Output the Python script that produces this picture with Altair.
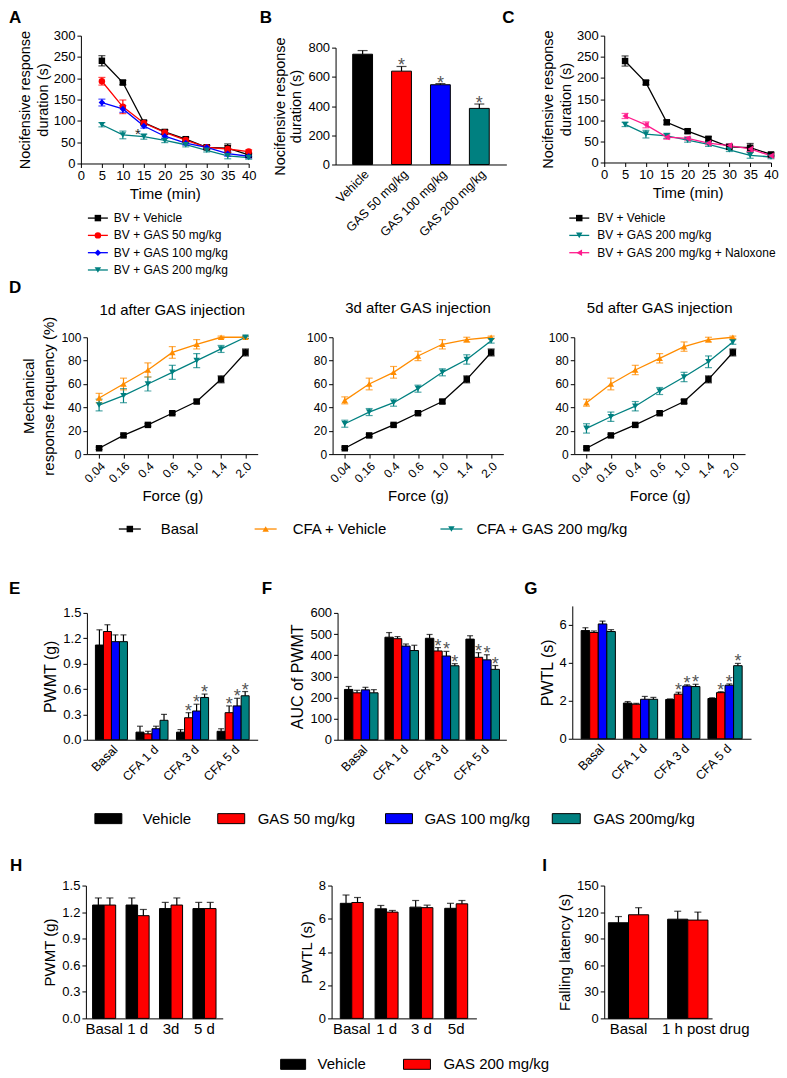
import altair as alt
import pandas as pd

FONT = "Liberation Sans"
BLACK, RED, BLUE, TEAL, PINK, ORANGE = "#000000", "#ff0000", "#0000ff", "#008080", "#ff1a8c", "#ff8c00"
STAR = "#555555"

LETTERS = ["A", "B", "C", "D", "E", "F", "G", "H", "I"]

# ---------------- Panel A ----------------
A_time = [5, 10, 15, 20, 25, 30, 35, 40]
A_series = ["BV + Vehicle", "BV + GAS 50 mg/kg", "BV + GAS 100 mg/kg", "BV + GAS 200 mg/kg"]
A_vehicle = [241, 190, 96, 74, 57, 38, 36, 20]
A_vehicle_err = [12, 5, 5, 5, 5, 5, 10, 4]
A_gas50 = [193, 133, 95, 73, 55, 38, 34, 28]
A_gas50_err = [9, 16, 4, 5, 5, 4, 8, 4]
A_gas100 = [143, 128, 88, 64, 48, 38, 23, 17]
A_gas100_err = [8, 8, 5, 5, 5, 4, 6, 4]
A_gas200 = [91, 67, 63, 54, 44, 31, 18, 14]
A_gas200_err = [5, 9, 6, 5, 5, 4, 7, 4]
A_star_time = [15]
A_star_series = ["BV + GAS 200 mg/kg"]

# ---------------- Panel B ----------------
B_groups = ["Vehicle", "GAS 50 mg/kg", "GAS 100 mg/kg", "GAS 200 mg/kg"]
B_values = [755, 639, 546, 384]
B_err = [25, 32, 8, 30]
B_sig = [False, True, True, True]

# ---------------- Panel C ----------------
C_series = ["BV + Vehicle", "BV + GAS 200 mg/kg", "BV + GAS 200 mg/kg + Naloxone"]
C_vehicle = [240, 189, 95, 74, 56, 37, 35, 19]
C_vehicle_err = [12, 5, 5, 5, 5, 5, 10, 4]
C_gas200 = [90, 67, 63, 53, 43, 30, 17, 13]
C_gas200_err = [5, 9, 6, 5, 5, 4, 7, 4]
C_nalox = [110, 89, 60, 57, 46, 40, 32, 16]
C_nalox_err = [6, 7, 5, 4, 4, 4, 6, 4]

# ---------------- Panel D ----------------
D_force = ["0.04", "0.16", "0.4", "0.6", "1.0", "1.4", "2.0"]
D_series = ["Basal", "CFA + Vehicle", "CFA + GAS 200 mg/kg"]
D_titles = ["1d after GAS injection", "3d after GAS injection", "5d after GAS injection"]
D_basal = [5, 16, 25, 35, 45, 64, 87]
D_basal_err = [1, 1, 1, 1, 1.5, 3, 3]
D1_veh = [48, 60, 72, 87, 94, 100, 100]
D1_veh_err = [4, 5, 6, 5, 4, 1, 1]
D1_gas = [42, 50, 60, 70, 80, 90, 100]
D1_gas_err = [5, 6, 6, 6, 6, 3, 1]
D2_veh = [46, 60, 70, 84, 94, 98, 100]
D2_veh_err = [3, 5, 5, 4, 4, 2, 1]
D2_gas = [26, 36, 44, 56, 70, 81, 97]
D2_gas_err = [3, 3, 3, 3, 3, 4, 2]
D3_veh = [44, 60, 72, 82, 92, 98, 100]
D3_veh_err = [3, 5, 4, 4, 4, 2, 1]
D3_gas = [22, 32, 41, 54, 66, 79, 96]
D3_gas_err = [4, 4, 4, 3, 4, 5, 2]

# ---------------- Panels E, F, G ----------------
EFG_groups = ["Basal", "CFA 1 d", "CFA 3 d", "CFA 5 d"]
EFG_series = ["Vehicle", "GAS 50 mg/kg", "GAS 100 mg/kg", "GAS 200mg/kg"]
EFG_sig = [[0, 0, 0, 0], [0, 0, 1, 1], [0, 0, 1, 1], [0, 0, 1, 1]]
E_veh = [1.12, 0.09, 0.09, 0.10]
E_veh_err = [0.18, 0.07, 0.03, 0.03]
E_g50 = [1.28, 0.07, 0.26, 0.32]
E_g50_err = [0.08, 0.03, 0.06, 0.08]
E_g100 = [1.16, 0.13, 0.34, 0.40]
E_g100_err = [0.08, 0.03, 0.08, 0.09]
E_g200 = [1.16, 0.23, 0.50, 0.52]
E_g200_err = [0.08, 0.07, 0.04, 0.05]
F_veh = [238, 485, 480, 476]
F_veh_err = [14, 22, 18, 16]
F_g50 = [222, 478, 420, 390]
F_g50_err = [12, 10, 16, 22]
F_g100 = [236, 443, 396, 378]
F_g100_err = [12, 10, 22, 24]
F_g200 = [222, 422, 350, 333]
F_g200_err = [15, 25, 10, 18]
G_veh = [5.70, 1.88, 2.07, 2.12]
G_veh_err = [0.15, 0.08, 0.03, 0.04]
G_g50 = [5.60, 1.82, 2.35, 2.43]
G_g50_err = [0.08, 0.04, 0.10, 0.05]
G_g100 = [6.05, 2.08, 2.78, 2.82]
G_g100_err = [0.15, 0.15, 0.06, 0.07]
G_g200 = [5.65, 2.08, 2.75, 3.85]
G_g200_err = [0.10, 0.10, 0.12, 0.12]

# ---------------- Panels H, I ----------------
HI_series = ["Vehicle", "GAS 200 mg/kg"]
H_groups = ["Basal", "1 d", "3d", "5 d"]
H_veh = [1.28, 1.28, 1.24, 1.24]
H_veh_err = [0.08, 0.08, 0.07, 0.07]
H_gas = [1.28, 1.16, 1.28, 1.24]
H_gas_err = [0.08, 0.07, 0.08, 0.07]
H2_groups = ["Basal", "1 d", "3 d", "5d"]
H2_veh = [6.93, 6.60, 6.70, 6.63]
H2_veh_err = [0.50, 0.20, 0.40, 0.30]
H2_gas = [6.98, 6.40, 6.67, 6.90]
H2_gas_err = [0.30, 0.10, 0.15, 0.20]
I_groups = ["Basal", "1 h post drug"]
I_veh = [108, 112]
I_veh_err = [7, 9]
I_gas = [117, 111]
I_gas_err = [8, 9]

RESOLVE = dict(color="independent", shape="independent", xOffset="independent",
               x="independent", y="independent")


# ================= helpers =================
def long_df(tag, xs, series, vals, errs, sig=None):
    rows = []
    for k, (s, v, e) in enumerate(zip(series, vals, errs)):
        for i, (x, a, b) in enumerate(zip(xs, v, e)):
            rows.append({"x" + tag: x, "idx": i, "s" + tag: s, "value": a,
                         "lo": a - b, "hi": a + b,
                         "sig": bool(sig[k][i]) if sig else False})
    return pd.DataFrame(rows)


def line_chart(tag, df, series, colors, shapes, xenc, yscale, yaxis, star_df=None):
    sf = "s" + tag + ":N"
    color = alt.Color(sf, scale=alt.Scale(domain=series, range=colors), legend=None)
    shape = alt.Shape(sf, scale=alt.Scale(domain=series, range=shapes), legend=None)

    def Y(field):
        return alt.Y(field, scale=yscale, axis=yaxis)

    base = alt.Chart(df)
    layers = [
        base.mark_line(strokeWidth=1.3).encode(x=xenc, y=Y("value:Q"), color=color, order="idx:Q"),
        base.mark_rule(strokeWidth=1.2).encode(x=xenc, y=Y("lo:Q"), y2="hi:Q", color=color),
        base.mark_tick(orient="horizontal", size=7, thickness=1.2).encode(x=xenc, y=Y("hi:Q"), color=color),
        base.mark_tick(orient="horizontal", size=7, thickness=1.2).encode(x=xenc, y=Y("lo:Q"), color=color),
        base.mark_point(filled=True, size=42, opacity=1).encode(x=xenc, y=Y("value:Q"), color=color,
                                                                 shape=shape),
    ]
    if star_df is not None:
        layers.append(alt.Chart(star_df).mark_text(
            text="*", fontSize=15, font=FONT, color="#222222", baseline="alphabetic", dx=-6, dy=5
        ).encode(x=xenc, y=Y("hi:Q")))
    return alt.layer(*layers)


def bar_chart(tag, df, groups, series, colors, ydom, yvals, ytitle, yfmt, pin, pout,
              offset=True, cap=7, label_angle=-45, label_size=12.5, star_dy=0,
              title_size=16, label_y_size=13, label_shift=None):
    xkw = dict(title=None, ticks=False, labelAngle=label_angle, labelFontSize=label_size,
               labelOverlap=False, labelPadding=3)
    if label_shift:
        lab, dx = label_shift
        xkw["labelOffset"] = {"condition": {"test": "datum.value === '%s'" % lab, "value": dx}, "value": 0}
    xaxis = alt.Axis(**xkw)
    xenc = alt.X("x" + tag + ":N", sort=groups, axis=xaxis,
                 scale=alt.Scale(paddingInner=pin, paddingOuter=pout))
    enc = {"x": xenc}
    sf = "s" + tag + ":N"
    if offset:
        enc["xOffset"] = alt.XOffset(sf, sort=series, scale=alt.Scale(domain=series, paddingInner=0,
                                                                      paddingOuter=0))
    color = alt.Color(sf, scale=alt.Scale(domain=series, range=colors), legend=None)
    ykw = dict(values=yvals, title=ytitle, titleFontSize=title_size, labelFontSize=label_y_size,
               labelOverlap=False)
    if yfmt:
        ykw["format"] = yfmt
    yax = alt.Axis(**ykw)
    yscale = alt.Scale(domain=ydom, nice=False)

    def Y(field):
        return alt.Y(field, scale=yscale, axis=yax)

    base = alt.Chart(df)
    layers = [
        base.mark_bar(stroke="black", strokeWidth=1).encode(y=Y("value:Q"), color=color, **enc),
        base.mark_rule(color="black", strokeWidth=1.2).encode(y=Y("value:Q"), y2="hi:Q", **enc),
        base.mark_tick(color="black", orient="horizontal", size=cap, thickness=1.2).encode(y=Y("hi:Q"), **enc),
        base.mark_text(text="*", fontSize=18, font=FONT, color=STAR, baseline="alphabetic", dy=star_dy)
        .transform_filter("datum.sig").encode(y=Y("hi:Q"), **enc),
    ]
    return alt.layer(*layers)


ONE = pd.DataFrame({"v": [0]})


def spacer(w, h):
    return alt.Chart(ONE).mark_rect(opacity=0).encode(
        x=alt.value(0), x2=alt.value(w), y=alt.value(0), y2=alt.value(h)
    ).properties(width=w, height=h)


def anchor(w, h, lb, rb):
    return alt.Chart(ONE).mark_rect(opacity=0).encode(
        x=alt.value(-lb), x2=alt.value(w + rb), y=alt.value(0), y2=alt.value(h)
    ).properties(width=w, height=h)


def letters(pairs):
    layers = []
    for t, dx in pairs:
        layers.append(alt.Chart(pd.DataFrame({"t": [t]})).mark_text(
            align="left", baseline="top", fontSize=17, fontWeight="bold", font=FONT, color="black"
        ).encode(text="t:N", x=alt.value(dx), y=alt.value(0)))
    return alt.layer(*layers)


def line_legend(tag, labels, colors, shapes, line_w, text_x, fs, ox):
    sf = "s" + tag + ":N"
    df = pd.DataFrame({"s" + tag: labels})
    color = alt.Color(sf, scale=alt.Scale(domain=labels, range=colors), legend=None)
    shape = alt.Shape(sf, scale=alt.Scale(domain=labels, range=shapes), legend=None)
    y = alt.Y(sf, sort=labels, axis=None, scale=alt.Scale(type="point", padding=0.5))
    base = alt.Chart(df)
    return alt.layer(
        base.mark_rule(strokeWidth=1.3).encode(x=alt.value(ox), x2=alt.value(ox + line_w), y=y, color=color),
        base.mark_point(filled=True, size=42, opacity=1).encode(x=alt.value(ox + line_w / 2), y=y,
                                                                 color=color, shape=shape),
        base.mark_text(align="left", baseline="middle", fontSize=fs, font=FONT, color="black").encode(
            x=alt.value(ox + text_x), y=y, text=sf),
    )


def hline_legend(labels, colors, shapes, offsets, text_xs, line_w, fs, h):
    layers = []
    for s, c, m, ox, tx in zip(labels, colors, shapes, offsets, text_xs):
        base = alt.Chart(pd.DataFrame({"lab": [s]}))
        layers += [
            base.mark_rule(strokeWidth=1.3, color=c).encode(x=alt.value(ox), x2=alt.value(ox + line_w),
                                                            y=alt.value(h / 2)),
            base.mark_point(filled=True, size=42, opacity=1, color=c, shape=m).encode(
                x=alt.value(ox + line_w / 2), y=alt.value(h / 2)),
            base.mark_text(align="left", baseline="middle", fontSize=fs, font=FONT, color="black").encode(
                x=alt.value(ox + tx), y=alt.value(h / 2), text="lab:N"),
        ]
    return alt.layer(*layers)


def rect_legend(labels, colors, offsets, widths, text_xs, fs, h):
    layers = []
    for s, c, ox, rw, tx in zip(labels, colors, offsets, widths, text_xs):
        base = alt.Chart(pd.DataFrame({"lab": [s]}))
        layers += [
            base.mark_rect(stroke="black", strokeWidth=1, color=c).encode(
                x=alt.value(ox), x2=alt.value(ox + rw), y=alt.value(h / 2 - 5), y2=alt.value(h / 2 + 5)),
            base.mark_text(align="left", baseline="middle", fontSize=fs, font=FONT, color="black").encode(
                x=alt.value(ox + tx), y=alt.value(h / 2), text="lab:N"),
        ]
    return alt.layer(*layers)


ORIGIN = 8


def cell(y0, y1, X, w, lb, rb, items):
    charts = []
    cur = y0
    first = True
    for (y, h, ch) in items:
        gap = y - cur
        if first:
            charts.append(anchor(w, max(gap, 1), lb, rb))
            first = False
        elif gap > 0.01:
            charts.append(spacer(w, gap))
        charts.append(ch.properties(width=w, height=h))
        cur = y + h
    if y1 - cur > 0.01:
        charts.append(spacer(w, y1 - cur))
    return alt.vconcat(*charts, spacing=0, bounds="flush").resolve_scale(**RESOLVE)


def band(y0, y1, cells):
    # first child of every band is a spacer starting at the page origin
    parts = []
    cur = ORIGIN
    for (X, w, lb, rb, items) in cells:
        left = X - lb
        gap = left - cur
        if not parts:
            parts.append(spacer(max(gap, 1), y1 - y0))
        elif gap > 0.01:
            parts.append(spacer(gap, y1 - y0))
        parts.append(cell(y0, y1, X, w, lb, rb, items))
        cur = X + w + rb
    return alt.hconcat(*parts, spacing=0).resolve_scale(**RESOLVE)


# ================= panels =================
def time_x(tag):
    ax = alt.Axis(values=list(range(0, 45, 5)), title="Time (min)", titleFontSize=15,
                  labelFontSize=13, labelFlush=False, labelOverlap=False, labelAngle=0)
    return alt.X("x" + tag + ":Q", scale=alt.Scale(domain=[0, 40], nice=False), axis=ax)


noci_axis = alt.Axis(values=list(range(0, 301, 50)), title=["Nocifensive response", "duration (s)"],
                     titleFontSize=14.5, labelFontSize=13, titleLineHeight=18, titlePadding=3,
                     labelOverlap=False)

dfA = long_df("A", A_time, A_series, [A_vehicle, A_gas50, A_gas100, A_gas200],
              [A_vehicle_err, A_gas50_err, A_gas100_err, A_gas200_err])
starA = dfA[dfA["xA"].isin(A_star_time) & dfA["sA"].isin(A_star_series)]
A_colors = [BLACK, RED, BLUE, TEAL]
A_shapes = ["square", "circle", "diamond", "triangle-down"]
chartA = line_chart("A", dfA, A_series, A_colors, A_shapes, time_x("A"),
                    alt.Scale(domain=[0, 300], nice=False), noci_axis, starA)

dfB = pd.DataFrame({"xB": B_groups, "sB": B_groups, "value": B_values,
                    "hi": [v + e for v, e in zip(B_values, B_err)], "sig": B_sig})
chartB = bar_chart("B", dfB, B_groups, B_groups, [BLACK, RED, BLUE, TEAL], [0, 800], [0, 200, 400, 600, 800],
                   ["Nocifensive response", "duration (s)"], None, 0.49, 0.44, offset=False, cap=10,
                   label_angle=-45, label_size=12.5, star_dy=5, title_size=14.5)

dfC = long_df("C", A_time, C_series, [C_vehicle, C_gas200, C_nalox], [C_vehicle_err, C_gas200_err, C_nalox_err])
C_colors = [BLACK, TEAL, PINK]
C_shapes = ["square", "triangle-down", "triangle-left"]
chartC = line_chart("C", dfC, C_series, C_colors, C_shapes, time_x("C"),
                    alt.Scale(domain=[0, 300], nice=False), noci_axis)

D_colors = [BLACK, ORANGE, TEAL]
D_shapes = ["square", "triangle-up", "triangle-down"]
D_sets = [
    (D1_veh, D1_veh_err, D1_gas, D1_gas_err),
    (D2_veh, D2_veh_err, D2_gas, D2_gas_err),
    (D3_veh, D3_veh_err, D3_gas, D3_gas_err),
]
D_charts = []
for k, (veh, veh_e, gas, gas_e) in enumerate(D_sets):
    tag = "D%d" % k
    df = long_df(tag, D_force, D_series, [D_basal, veh, gas], [D_basal_err, veh_e, gas_e])
    xenc = alt.X("x" + tag + ":N", sort=D_force, scale=alt.Scale(type="point", padding=0.5),
                 axis=alt.Axis(labelAngle=-45, title="Force (g)", titleFontSize=15, labelFontSize=12,
                               labelOverlap=False, titlePadding=4))
    if k == 0:
        yax = alt.Axis(values=list(range(0, 101, 20)), title=["Mechanical", "response frequency (%)"],
                       titleFontSize=15, labelFontSize=12, titleLineHeight=20, titlePadding=4,
                       labelOverlap=False)
    else:
        yax = alt.Axis(values=list(range(0, 101, 20)), title=None, labelFontSize=12, labelOverlap=False)
    ch = line_chart(tag, df, D_series, D_colors, D_shapes, xenc, alt.Scale(domain=[0, 100], nice=False), yax)
    ch = ch.properties(title=alt.TitleParams(D_titles[k], fontSize=15, fontWeight="normal", font=FONT,
                                             anchor="middle", frame="group", baseline="bottom", offset=0,
                                             dy=17 if k == 0 else 0))
    D_charts.append(ch)


def efg(tag, vals, errs, ydom, yvals, ytitle, yfmt, pin, pout):
    df = long_df(tag, EFG_groups, EFG_series, vals, errs, EFG_sig)
    return bar_chart(tag, df, EFG_groups, EFG_series, [BLACK, RED, BLUE, TEAL], ydom, yvals, ytitle, yfmt,
                     pin, pout, offset=True, cap=6, label_angle=-45, label_size=12.5, star_dy=4)


chartE = efg("E", [E_veh, E_g50, E_g100, E_g200], [E_veh_err, E_g50_err, E_g100_err, E_g200_err],
             [0, 1.5], [0, 0.3, 0.6, 0.9, 1.2, 1.5], "PWMT (g)", ".1f", 0.21, 0.21)
chartF = efg("F", [F_veh, F_g50, F_g100, F_g200], [F_veh_err, F_g50_err, F_g100_err, F_g200_err],
             [0, 600], [0, 100, 200, 300, 400, 500, 600], "AUC of PWMT", None, 0.17, 0.17)
chartG = efg("G", [G_veh, G_g50, G_g100, G_g200], [G_veh_err, G_g50_err, G_g100_err, G_g200_err],
             [0, 7], [0, 2, 4, 6], "PWTL (s)", None, 0.19, 0.21)


def hi_chart(tag, groups, vals, errs, ydom, yvals, ytitle, yfmt, pin, pout, label_shift=None):
    df = long_df(tag, groups, HI_series, vals, errs)
    return bar_chart(tag, df, groups, HI_series, [BLACK, RED], ydom, yvals, ytitle, yfmt, pin, pout,
                     offset=True, cap=7, label_angle=0, label_size=15, title_size=15, label_y_size=13,
                     label_shift=label_shift)


chartH = hi_chart("H", H_groups, [H_veh, H_gas], [H_veh_err, H_gas_err], [0, 1.5],
                  [0, 0.3, 0.6, 0.9, 1.2, 1.5], "PWMT (g)", ".1f", 0.31, 0.2)
chartH2 = hi_chart("H2", H2_groups, [H2_veh, H2_gas], [H2_veh_err, H2_gas_err], [0, 8],
                   [0, 2, 4, 6, 8], "PWTL (s)", None, 0.34, 0.25)
chartI = hi_chart("I", I_groups, [I_veh, I_gas], [I_veh_err, I_gas_err], [0, 150],
                  [0, 30, 60, 90, 120, 150], "Falling latency (s)", None, 0.32, 0.07,
                  label_shift=(I_groups[1], 18))

legA = line_legend("LA", A_series, A_colors, A_shapes, 20, 26, 12, 7)
legC = line_legend("LC", C_series, C_colors, C_shapes, 20, 28, 12, -35)
legD = hline_legend(D_series, D_colors, D_shapes, [0, 136, 322], [42, 38, 36], 22, 15, 20)
legE = rect_legend(EFG_series, [BLACK, RED, BLUE, TEAL], [0, 123, 291, 458], [27, 27, 27, 28],
                   [48, 40, 39, 41], 15, 20)
legH = rect_legend(HI_series, [BLACK, RED], [0, 123], [25, 27], [37, 40], 15, 16)

# ================= layout (page coordinates) =================
bands = [
    band(8, 277.6, [
        (81, 168, 72, 8, [(9, 16, letters([(LETTERS[0], -72)])), (35, 128, chartA), (208.3, 69.3, legA)]),
        (336, 171, 76, 12, [(9, 16, letters([(LETTERS[1], -76), (LETTERS[2], 167)])), (47, 117, chartB)]),
        (605, 167, 70, 7, [(35, 127, chartC), (208.3, 52, legC)]),
    ]),
    band(277.6, 505, [
        (87, 171, 78, 6, [(278.6, 16, letters([(LETTERS[3], -78)])), (335, 117, D_charts[0])]),
        (333, 171, 40, 6, [(335, 117, D_charts[1])]),
        (575, 171, 40, 6, [(335, 117, D_charts[2])]),
    ]),
    band(505, 570, [
        (118, 520, 0, 0, [(517, 20, legD)]),
    ]),
    band(570, 795, [
        (87, 171, 78, 4, [(579, 16, letters([(LETTERS[4], -78)])), (611, 127, chartE)]),
        (338, 169, 76, 4, [(579, 16, letters([(LETTERS[5], -76)])), (611, 127, chartF)]),
        (573, 179, 48, 4, [(579, 16, letters([(LETTERS[6], -48)])), (604, 133, chartG)]),
    ]),
    band(795, 845, [
        (94, 620, 0, 0, [(807, 20, legE)]),
    ]),
    band(845, 1040, [
        (86, 137, 76, 10, [(856, 16, letters([(LETTERS[7], -76)])), (884, 133, chartH)]),
        (332, 145, 42, 8, [(884, 133, chartH2)]),
        (605, 108, 62, 20, [(856, 16, letters([(LETTERS[8], -62)])), (884, 133, chartI)]),
    ]),
    band(1040, 1070, [
        (280, 300, 0, 0, [(1055, 16, legH)]),
    ]),
]

chart = alt.vconcat(*bands, spacing=0).resolve_scale(**RESOLVE).properties(
    padding={"left": 0, "top": 0, "right": 0, "bottom": 0}
).configure(font=FONT).configure_view(stroke=None).configure_axis(
    grid=False, domainColor="black", tickColor="black", labelColor="black", titleColor="black",
    labelFont=FONT, titleFont=FONT, titleFontWeight="normal", tickSize=4, labelPadding=2,
    domainWidth=1, tickWidth=1, labelOverlap=False
).configure_concat(spacing=0)

chart.save("out.html", embed_options={"renderer": "svg", "actions": False})
